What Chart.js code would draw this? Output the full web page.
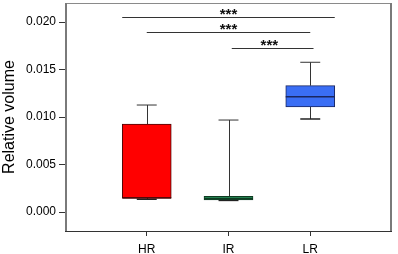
<!DOCTYPE html>
<html>
<head>
<meta charset="utf-8">
<script src="https://cdn.jsdelivr.net/npm/chart.js@4/dist/chart.umd.min.js"></script>
<style>
  html, body { margin: 0; padding: 0; background: #fff; }
  #c { display: block; }
</style>
</head>
<body>
<canvas id="c" width="398" height="254"></canvas>
<script>
// ---- data ----
const categories   = ['HR', 'IR', 'LR'];
const whiskerLow   = [0.00134, 0.00122, 0.00979];
const quartile1    = [0.00147, 0.00126, 0.01105];
const medians      = [0.00147, 0.00140, 0.01214];
const quartile3    = [0.00926, 0.00165, 0.01330];
const whiskerHigh  = [0.01126, 0.00968, 0.01576];
const yTicks       = [0.000, 0.005, 0.010, 0.015, 0.020];
// significance brackets (x in category-axis units, y in data units)
const sigStart     = [0.70, 1.00, 2.04];
const sigEnd       = [3.30, 3.00, 3.04];
const sigLevel     = [0.02053, 0.01895, 0.01729];
const sigLabelX    = [2.00, 2.00, 2.50];
const sigLabels    = ['***', '***', '***'];

const fillColors   = ['#ff0000', '#23804f', '#3a6ef5'];
const edgeColors   = ['#4a0808', '#0e3b22', '#1a2660'];

const FONT = "'Liberation Sans', Arial, sans-serif";

const boxPlugin = {
  id: 'boxExtras',
  beforeDatasetsDraw(chart) {
    const {ctx, scales: {x, y}} = chart;
    ctx.save();
    ctx.strokeStyle = '#333';
    ctx.lineWidth = 1;
    const capHalf = 0.122;
    categories.forEach((c, i) => {
      const cx = Math.round(x.getPixelForValue(i + 1)) + 0.5;
      const xl = x.getPixelForValue(i + 1 - capHalf);
      const xr = x.getPixelForValue(i + 1 + capHalf);
      const yLo = y.getPixelForValue(whiskerLow[i]);
      const yQ1 = y.getPixelForValue(quartile1[i]);
      const yQ3 = y.getPixelForValue(quartile3[i]);
      const yHi = y.getPixelForValue(whiskerHigh[i]);
      ctx.beginPath();
      ctx.moveTo(cx, yQ3); ctx.lineTo(cx, yHi);
      ctx.moveTo(xl, yHi); ctx.lineTo(xr, yHi);
      ctx.moveTo(cx, yQ1); ctx.lineTo(cx, yLo);
      ctx.stroke();
    });
    ctx.restore();
  },
  afterDatasetsDraw(chart) {
    const {ctx, chartArea: a, scales: {x, y}} = chart;
    ctx.save();
    const capHalf = 0.122;
    categories.forEach((c, i) => {
      const xl = x.getPixelForValue(i + 1 - capHalf);
      const xr = x.getPixelForValue(i + 1 + capHalf);
      const yLo = y.getPixelForValue(whiskerLow[i]);
      ctx.strokeStyle = '#222';
      ctx.lineWidth = 1.5;
      ctx.beginPath();
      ctx.moveTo(xl, yLo); ctx.lineTo(xr, yLo);
      ctx.stroke();
      // median
      const meta = chart.getDatasetMeta(0).data[i];
      const ym = y.getPixelForValue(medians[i]);
      ctx.strokeStyle = edgeColors[i];
      ctx.lineWidth = 1.5;
      ctx.beginPath();
      ctx.moveTo(meta.x - meta.width / 2, ym);
      ctx.lineTo(meta.x + meta.width / 2, ym);
      ctx.stroke();
    });
    // significance brackets
    ctx.strokeStyle = '#333';
    ctx.lineWidth = 1;
    ctx.fillStyle = '#111';
    ctx.font = 'bold 15px ' + FONT;
    ctx.textAlign = 'center';
    ctx.textBaseline = 'alphabetic';
    sigLevel.forEach((lv, i) => {
      const py = Math.round(y.getPixelForValue(lv)) + 0.5;
      ctx.beginPath();
      ctx.moveTo(x.getPixelForValue(sigStart[i]), py);
      ctx.lineTo(x.getPixelForValue(sigEnd[i]), py);
      ctx.stroke();
      ctx.fillText(sigLabels[i], x.getPixelForValue(sigLabelX[i]), py + 1);
    });
    // frame
    ctx.strokeStyle = '#8a8a8a';
    ctx.lineWidth = 1;
    ctx.beginPath();
    ctx.moveTo(a.left, a.top + 0.5); ctx.lineTo(a.right, a.top + 0.5);
    ctx.stroke();
    ctx.strokeStyle = '#7a7a7a';
    ctx.lineWidth = 2;
    ctx.beginPath();
    ctx.moveTo(a.right - 1, a.top); ctx.lineTo(a.right - 1, a.bottom);
    ctx.moveTo(a.left + 1, a.top); ctx.lineTo(a.left + 1, a.bottom);
    ctx.stroke();
    ctx.strokeStyle = '#333';
    ctx.lineWidth = 1;
    ctx.beginPath();
    ctx.moveTo(a.left, a.bottom + 0.5); ctx.lineTo(a.right, a.bottom + 0.5);
    ctx.stroke();
    ctx.restore();
  }
};

new Chart(document.getElementById('c'), {
  type: 'bar',
  data: {
    datasets: [{
      data: categories.map((c, i) => ({x: i + 1, y: [quartile1[i], quartile3[i]]})),
      backgroundColor: fillColors,
      borderColor: edgeColors,
      borderWidth: 1,
      borderSkipped: false,
      barThickness: 49
    }]
  },
  options: {
    responsive: false,
    animation: false,
    devicePixelRatio: 1,
    layout: { padding: { top: 3, right: 6, left: 0, bottom: 0 } },
    plugins: { legend: { display: false }, tooltip: { enabled: false } },
    scales: {
      x: {
        type: 'linear',
        min: 0, max: 4,
        offset: false,
        afterBuildTicks: s => { s.ticks = categories.map((c, i) => ({value: i + 1})); },
        afterFit: s => { s.height = 23; s.paddingLeft = 0; s.paddingRight = 0; },
        border: { display: false },
        grid: { offset: false, drawOnChartArea: false, drawTicks: true, tickLength: 5, tickColor: '#333' },
        ticks: {
          callback: v => categories[v - 1],
          color: '#000',
          font: { family: FONT, size: 12 },
          padding: 6,
          maxRotation: 0
        }
      },
      y: {
        min: -0.002, max: 0.022,
        afterBuildTicks: s => { s.ticks = yTicks.map(v => ({value: v})); },
        afterFit: s => { s.width = 65; s.paddingTop = 0; s.paddingBottom = 0; },
        border: { display: false },
        grid: { drawOnChartArea: false, drawTicks: true, tickLength: 6, tickColor: '#333' },
        ticks: {
          callback: v => Number(v).toFixed(3),
          color: '#000',
          font: { family: FONT, size: 12 },
          padding: 3
        },
        title: {
          display: true,
          text: 'Relative volume',
          color: '#000',
          font: { family: FONT, size: 16, lineHeight: 1.1 },
          padding: { top: 1, bottom: 0 }
        }
      }
    }
  },
  plugins: [boxPlugin]
});
</script>
</body>
</html>
